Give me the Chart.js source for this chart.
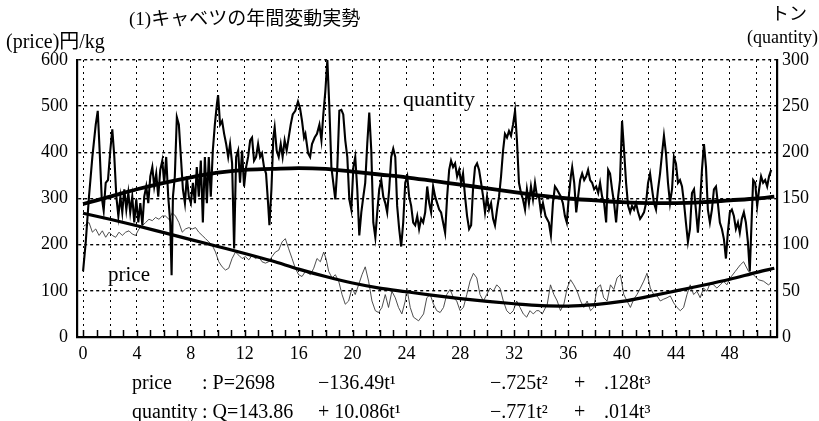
<!DOCTYPE html>
<html>
<head>
<meta charset="utf-8">
<script src="https://cdn.jsdelivr.net/npm/chart.js@4.4.1/dist/chart.umd.min.js"></script>
<style>
  html, body { margin: 0; padding: 0; background: #fff; }
  #wrap { position: relative; width: 819px; height: 421px; overflow: hidden; }
  canvas { position: absolute; left: 0; top: 0; }
  .t { position: absolute; white-space: nowrap; line-height: 1; color: #000;
       font-family: 'Liberation Serif', 'DejaVu Serif', 'Noto Sans CJK JP', serif; font-size: 20px; }
  .box { background: #fff; padding: 0 4px; }
</style>
</head>
<body>
<div id="wrap">
  <canvas id="c" width="819" height="421"></canvas>
  <div class="t" style="left:129px; top:9px; font-size:19px;">(1)キャベツの年間変動実勢</div>
  <div class="t" style="left:6px; top:31px;">(price)円/kg</div>
  <div class="t" style="left:771px; top:5px; font-size:18px;">トン</div>
  <div class="t" style="left:747px; top:28px; font-size:18px;">(quantity)</div>
  <div class="t box" style="left:399px; top:88px; font-size:22px;">quantity</div>
  <div class="t box" style="left:104px; top:264px; font-size:21px;">price</div>

  <div class="t" style="left:132px; top:372px;">price</div>
  <div class="t" style="left:202px; top:372px;">: P=2698</div>
  <div class="t" style="left:318px; top:372px;">−136.49t¹</div>
  <div class="t" style="left:490px; top:372px;">−.725t²</div>
  <div class="t" style="left:574px; top:372px;">+</div>
  <div class="t" style="left:604px; top:372px;">.128t³</div>

  <div class="t" style="left:132px; top:401px;">quantity</div>
  <div class="t" style="left:202px; top:401px;">: Q=143.86</div>
  <div class="t" style="left:318px; top:401px;">+ 10.086t¹</div>
  <div class="t" style="left:490px; top:401px;">−.771t²</div>
  <div class="t" style="left:574px; top:401px;">+</div>
  <div class="t" style="left:604px; top:401px;">.014t³</div>
</div>
<script>
// ---- data (t = week on x axis) ----
const quantityT = [
  0,0.2,0.44,0.69,0.94,1.09,1.23,1.38,1.53,1.68,
  1.85,2.02,2.17,2.32,2.47,2.62,2.77,2.91,3.06,3.21,
  3.36,3.5,3.65,3.8,3.95,4.1,4.25,4.4,4.54,4.69,
  4.84,4.99,5.14,5.28,5.43,5.58,5.73,5.88,6.02,6.17,
  6.32,6.47,6.57,6.67,6.81,6.96,7.11,7.26,7.41,7.56,
  7.7,7.85,8.0,8.15,8.3,8.44,8.59,8.74,8.89,9.04,
  9.19,9.33,9.48,9.63,9.78,9.93,10.02,10.17,10.32,10.47,
  10.62,10.77,10.91,11.06,11.21,11.36,11.51,11.65,11.8,11.95,
  12.1,12.25,12.4,12.54,12.69,12.84,12.99,13.14,13.28,13.43,
  13.58,13.73,13.83,13.98,14.12,14.22,14.37,14.52,14.67,14.81,
  14.96,15.11,15.26,15.41,15.56,15.75,15.95,16.1,16.25,16.4,
  16.5,16.7,16.85,16.99,17.19,17.36,17.54,17.69,17.83,17.98,
  18.13,18.28,18.43,18.57,18.72,18.87,19.02,19.17,19.31,19.46,
  19.61,19.76,19.91,20.06,20.2,20.35,20.5,20.65,20.8,20.94,
  21.09,21.24,21.39,21.54,21.69,21.83,21.98,22.13,22.28,22.43,
  22.57,22.72,22.87,23.02,23.17,23.31,23.46,23.61,23.76,23.91,
  24.06,24.2,24.35,24.5,24.65,24.8,24.94,25.09,25.24,25.39,
  25.54,25.69,25.83,25.98,26.13,26.28,26.43,26.57,26.72,26.87,
  27.02,27.17,27.31,27.46,27.61,27.76,27.91,28.06,28.2,28.35,
  28.5,28.65,28.8,28.94,29.09,29.24,29.39,29.54,29.69,29.83,
  29.98,30.13,30.28,30.43,30.57,30.72,30.87,31.02,31.17,31.31,
  31.46,31.61,31.76,31.91,32.06,32.2,32.35,32.5,32.65,32.8,
  32.94,33.09,33.24,33.39,33.54,33.69,
  33.83,33.98,34.13,34.32,34.57,34.72,34.87,35.02,35.16,35.31,
  35.46,35.61,35.76,35.9,36.05,36.2,36.3,36.45,36.6,36.74,
  36.89,37.04,37.19,37.34,37.48,37.63,37.78,37.93,38.08,38.23,
  38.37,38.52,38.67,38.82,38.97,39.11,39.26,39.41,39.56,39.71,
  39.85,40.0,40.15,40.3,40.45,40.6,40.74,40.89,41.04,41.19,
  41.34,41.48,41.63,41.78,41.93,42.08,42.23,42.37,42.52,42.67,
  42.82,42.97,43.11,43.26,43.41,43.56,43.71,43.85,44.0,44.15,
  44.3,44.45,44.6,44.74,44.89,45.04,45.19,45.34,45.48,45.63,
  45.78,45.93,46.08,46.23,46.37,46.52,46.67,46.82,46.97,47.11,
  47.26,47.41,47.56,47.71,47.85,48.0,48.15,48.3,48.45,48.6,
  48.74,48.89,49.04,49.19,49.34,49.48,49.63,49.73,49.88,50.03,
  50.17,50.32,50.47,50.62,50.77,50.91,51.07
];
const quantityTons = [
  71,103,152,195,230,245,202,152,137,167,
  170,202,225,195,152,131,152,135,160,138,
  156,135,152,124,149,124,145,121,152,163,
  145,174,184,163,177,152,181,191,167,195,
  152,124,67,152,174,238,230,195,160,145,
  174,152,145,167,145,184,152,191,124,195,
  145,195,152,202,230,252,262,230,234,220,
  209,195,209,188,96,195,202,167,202,163,
  184,195,213,216,191,195,209,195,199,184,
  177,145,121,160,216,227,202,195,209,195,
  213,202,216,230,241,245,255,248,234,216,
  220,199,195,209,216,220,230,213,241,266,
  300,248,184,167,149,184,245,246,241,213,
  195,149,138,184,195,160,110,135,152,167,
  209,243,202,124,108,135,160,170,152,145,
  135,160,195,204,195,142,117,98,124,167,
  174,152,142,124,121,131,117,128,124,135,
  163,145,135,163,152,145,138,135,124,113,
  152,181,191,184,188,174,181,167,177,152,
  131,117,121,160,184,188,181,167,152,135,
  152,138,145,128,121,138,152,174,202,220,
  216,223,218,230,245,213,167,156,149,138,
  160,145,163,149,167,152,
  152,135,145,131,124,110,145,163,160,156,
  152,145,131,124,152,174,184,167,135,152,
  170,177,170,174,181,170,167,160,163,156,
  167,152,145,124,181,177,160,145,124,152,
  170,234,202,167,142,135,142,138,145,135,
  128,131,135,145,167,177,160,145,138,160,
  177,199,218,199,167,145,160,195,188,167,
  170,163,145,124,103,117,156,160,138,113,
  142,181,209,184,138,124,138,160,163,145,
  124,117,106,85,113,135,138,131,117,124,
  113,128,135,124,103,71,131,170,167,142,
  160,174,167,170,163,174,181
];
const priceT = [
  0.05,0.44,0.69,0.94,1.19,1.43,1.68,1.93,2.17,2.42,
  2.67,2.91,3.16,3.41,3.65,3.9,4.15,4.4,4.64,4.89,
  5.14,5.38,5.63,5.88,6.12,6.37,6.62,6.86,7.11,7.36,
  7.6,7.85,8.1,8.35,8.59,8.84,9.09,9.33,9.58,9.83,
  10.07,10.32,10.57,10.81,11.06,11.31,11.56,11.8,12.05,12.3,
  12.54,12.79,13.04,13.28,13.53,13.78,14.02,14.27,14.52,14.77,
  15.01,15.26,15.51,15.75,16.0,16.25,
  16.5,16.87,17.12,17.36,17.61,17.86,18.03,18.23,18.48,18.72,
  18.97,19.22,19.46,19.71,19.96,20.2,20.45,20.7,20.94,21.19,
  21.44,21.69,21.93,22.18,22.43,22.67,22.92,23.17,23.41,23.66,
  23.91,24.03,24.28,24.52,24.9,25.27,25.51,25.76,26.01,26.25,
  26.5,26.75,26.99,27.24,27.49,27.73,27.98,28.23,28.48,28.72,
  28.97,29.22,29.46,29.71,29.96,30.2,30.45,30.7,30.94,31.19,
  31.44,31.69,31.93,32.18,32.43,32.67,32.92,33.17,33.41,33.66,
  33.83,34.08,34.45,34.69,34.94,35.19,35.43,35.68,35.93,36.18,
  36.42,36.67,36.92,37.16,37.41,37.66,37.9,38.15,38.4,38.64,
  38.89,39.14,39.39,39.63,39.88,40.13,40.37,40.62,40.87,41.11,
  41.36,41.61,41.85,42.1,42.35,42.6,42.84,43.09,43.34,43.58,
  43.83,44.08,44.32,44.57,44.82,45.06,45.31,45.56,45.8,46.05,
  46.3,46.54,46.79,47.04,47.29,47.53,47.78,48.03,48.4,48.77,
  49.02,49.39,49.75,50.12,50.49,50.86,51.06
];
const priceYen = [
  240,248,227,234,220,230,216,227,220,216,
  227,220,227,230,223,220,234,241,248,255,
  252,259,255,262,262,255,269,262,248,227,
  234,237,234,237,227,220,213,206,199,184,
  163,152,145,149,170,184,177,170,174,167,
  177,170,174,163,160,163,174,184,188,206,
  213,191,170,149,135,131,
  142,135,149,170,163,184,170,142,128,135,
  121,92,71,78,106,92,113,135,152,121,
  78,57,53,64,92,64,99,85,64,50,
  78,106,64,43,35,50,85,92,71,57,
  53,64,92,103,85,78,57,64,92,121,
  138,128,92,78,92,106,99,113,106,78,
  57,50,57,78,64,50,43,57,50,57,
  57,50,71,113,92,78,57,71,106,124,
  113,99,78,64,78,57,64,106,113,85,
  78,113,103,128,135,92,78,64,82,92,
  106,121,138,106,92,89,78,82,85,89,
  74,64,57,64,92,113,92,99,85,106,
  99,117,113,106,113,121,113,128,142,156,
  163,142,135,124,121,113,117
];
const trendT = [0,2,4,6,8,10,12,14,16,18,20,22,24,26,28,30,32,34,36,38,40,42,44,46,48,50,51.3];
const priceTrend = [268,255,241,226,211,196,181,165,147,131,117,106,98,90,83,77,72,68,67,70,77,88,100,112,125,140,149];
const quantityTrend = [144,152,160,167,173,178,181,182,183,182,179,176,173,169,165,161,157,153,150,148,146,145,145,146,148,150,152];
const xTickLabels = [0,4,8,12,16,20,24,28,32,36,40,44,48];
const leftTicks = [0,100,200,300,400,500,600];
const rightTicks = [0,50,100,150,200,250,300];

const pts = (xs, ys) => xs.map((x, i) => ({ x: x, y: ys[i] }));

const FONT = "'Liberation Serif', 'DejaVu Serif', serif";

const innerTicks = {
  id: 'innerTicks',
  afterDatasetsDraw(chart) {
    const xs = chart.scales.x, a = chart.chartArea, ctx = chart.ctx;
    ctx.save();
    ctx.strokeStyle = '#000';
    ctx.lineWidth = 1.5;
    ctx.beginPath();
    for (let v = 0; v <= 51; v++) {
      const px = Math.round(xs.getPixelForValue(v)) + 0.5;
      ctx.moveTo(px, a.bottom);
      ctx.lineTo(px, a.bottom - 7);
    }
    ctx.stroke();
    ctx.restore();
  }
};

new Chart(document.getElementById('c'), {
  type: 'line',
  data: {
    datasets: [
      { label: 'price trend', data: pts(trendT, priceTrend), yAxisID: 'y',
        borderColor: '#000', borderWidth: 3.2, pointRadius: 0, cubicInterpolationMode: 'monotone', order: 0 },
      { label: 'quantity trend', data: pts(trendT, quantityTrend), yAxisID: 'yR',
        borderColor: '#000', borderWidth: 3.8, pointRadius: 0, cubicInterpolationMode: 'monotone', order: 0 },
      { label: 'quantity', data: pts(quantityT, quantityTons), yAxisID: 'yR',
        borderColor: '#000', borderWidth: 2.1, pointRadius: 0, tension: 0, order: 1 },
      { label: 'price', data: pts(priceT, priceYen), yAxisID: 'y',
        borderColor: '#3a3a3a', borderWidth: 0.9, pointRadius: 0, tension: 0, order: 2 }
    ]
  },
  options: {
    responsive: false,
    animation: false,
    devicePixelRatio: 1,
    layout: { padding: { top: 60, left: 0, right: 0, bottom: 0 } },
    plugins: { legend: { display: false }, tooltip: { enabled: false } },
    scales: {
      x: {
        type: 'linear', min: -0.45, max: 51.5,
        afterBuildTicks: (s) => { const t = []; for (let v = 0; v <= 51; v++) t.push({ value: v }); s.ticks = t; },
        afterFit: (s) => { s.height = 84; },
        ticks: {
          autoSkip: false, maxRotation: 0, padding: 6, color: '#000',
          font: { family: FONT, size: 18 },
          callback: (v) => xTickLabels.includes(v) ? String(v) : ''
        },
        grid: {
          drawTicks: false, lineWidth: 1,
          color: (c) => (c.tick && (c.tick.value % 2 === 0 || c.tick.value === 51)) ? '#000' : 'rgba(0,0,0,0)'
        },
        border: { display: true, color: '#000', width: 2.2, dash: [2, 4] }
      },
      y: {
        position: 'left', min: 0, max: 600,
        afterBuildTicks: (s) => { s.ticks = leftTicks.map(v => ({ value: v })); },
        afterFit: (s) => { s.width = 77; },
        ticks: { padding: 9, color: '#000', font: { family: FONT, size: 18 } },
        grid: { drawTicks: false, lineWidth: 1.4, color: '#000' },
        border: { display: true, color: '#000', width: 2.2, dash: [3, 3] }
      },
      yR: {
        position: 'right', min: 0, max: 300,
        afterBuildTicks: (s) => { s.ticks = rightTicks.map(v => ({ value: v })); },
        afterFit: (s) => { s.width = 42; },
        ticks: { padding: 5, color: '#000', font: { family: FONT, size: 18 } },
        grid: { drawTicks: false, drawOnChartArea: false },
        border: { display: true, color: '#000', width: 2.2 }
      }
    }
  },
  plugins: [innerTicks]
});
</script>
</body>
</html>
